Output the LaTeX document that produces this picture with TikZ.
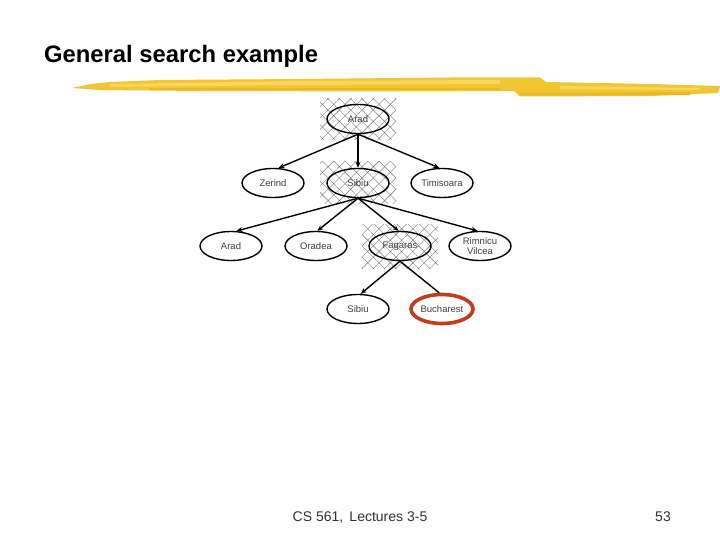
\documentclass[tikz,border=0pt]{standalone}
\usepackage{fontspec}
\setmainfont{Liberation Sans}
\usetikzlibrary{shapes.geometric,patterns.meta,arrows.meta}
\definecolor{brushA}{RGB}{242,198,48}
\definecolor{brushB}{RGB}{248,214,96}
\definecolor{brushC}{RGB}{236,184,30}
\definecolor{hatchgray}{RGB}{120,120,120}
\definecolor{bucred}{RGB}{196,60,25}
\tikzset{
  tnode/.style={ellipse, draw=black, line width=1.4pt, minimum width=62pt, minimum height=29pt, inner sep=0pt, font=\fontsize{9.5}{10.5}\selectfont, text=black!75, align=center},
  hatchbox/.style={pattern={Hatch[angle=45,distance=8pt,line width=0.4pt]}, pattern color=hatchgray},
  edge/.style={line width=1.4pt, -{Stealth[length=6pt,width=5pt]}},
  goal/.style={tnode, draw=bucred, line width=3.6pt}
}
\begin{document}
\begin{tikzpicture}[x=1pt,y=-1pt]
\useasboundingbox (0,0) rectangle (720,540);
\fill[white] (0,0) rectangle (720,540);
% title
\node[anchor=base west, inner sep=0pt, font=\fontsize{23.8}{26}\selectfont\bfseries] (title) at (44,63) {General search example};
% brush stroke
\fill[brushA] (72,88) .. controls (90,84) .. (110,82) -- (160,80) -- (300,79) -- (450,77.5) -- (540,77.5) -- (546,82) -- (650,84) -- (720,86) -- (718,93) -- (650,96) -- (520,96.5) -- (514,91) -- (400,91.5) -- (200,91) -- (100,90) -- cycle;
\fill[brushB] (110,84) -- (300,81) -- (500,80) -- (500,84) -- (300,85) -- (110,87) -- cycle;
\fill[brushC] (150,88) -- (500,88) -- (500,90.5) -- (150,90.5) -- cycle;
\fill[brushB] (560,86) -- (700,88) -- (700,90) -- (560,89) -- cycle;
\fill[brushC] (520,93) -- (690,92) -- (690,95) -- (520,95.5) -- cycle;
% hatched backgrounds
\fill[hatchbox] (320,99) rectangle (396,140);
\fill[hatchbox] (320,162) rectangle (396,204);
\fill[hatchbox] (362,225) rectangle (438,268);
% nodes
\node[tnode] (arad) at (358,119) {Arad};
\node[tnode] (zerind) at (273,183) {Zerind};
\node[tnode] (sibiu) at (358,183) {Sibiu};
\node[tnode] (timis) at (442,183) {Timisoara};
\node[tnode] (arad2) at (231,246) {Arad};
\node[tnode] (oradea) at (316,246) {Oradea};
\node[tnode] (fagaras) at (400,246) {Fagaras};
\node[tnode] (rimnicu) at (480,246) {Rimnicu\\Vilcea};
\node[tnode] (sibiu2) at (358,309) {Sibiu};
% edges
\draw[edge] (arad.south) -- (zerind.70);
\draw[edge] (arad.south) -- (sibiu.north);
\draw[edge] (arad.south) -- (timis.100);
\draw[edge] (sibiu.south) -- (arad2.70);
\draw[edge] (sibiu.south) -- (oradea.85);
\draw[edge] (sibiu.south) -- (fagaras.95);
\draw[edge] (sibiu.south) -- (rimnicu.100);
\draw[edge] (fagaras.south) -- (sibiu2.80);
\node[goal] (buch) at (442,309) {Bucharest};
\draw[line width=1.4pt] (fagaras.south) -- (buch.100);
% footer
\node[anchor=base, inner sep=0pt, font=\fontsize{14}{16}\selectfont, text=black!80] (foot) at (360,521) {CS 561,\, Lectures 3-5};
\node[anchor=base, inner sep=0pt, font=\fontsize{14}{16}\selectfont, text=black!80] (page) at (663,521) {53};
\end{tikzpicture}
\end{document}
